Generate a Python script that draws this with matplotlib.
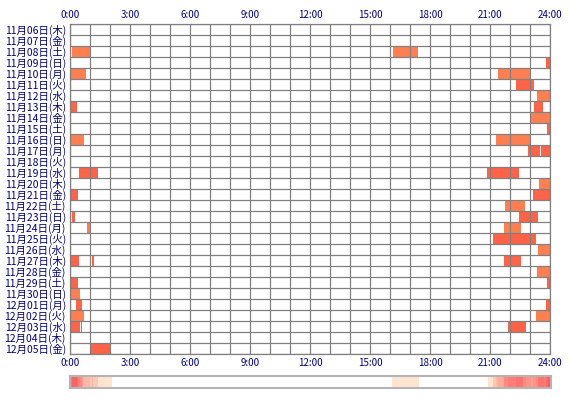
import numpy as np
import matplotlib.pyplot as plt
from matplotlib.colors import LinearSegmentedColormap

plt.rcParams['font.family'] = ['Noto Sans CJK JP', 'DejaVu Sans']

days = ['11月06日(木)', '11月07日(金)', '11月08日(土)', '11月09日(日)', '11月10日(月)',
        '11月11日(火)', '11月12日(水)', '11月13日(木)', '11月14日(金)', '11月15日(土)',
        '11月16日(日)', '11月17日(月)', '11月18日(火)', '11月19日(水)', '11月20日(木)',
        '11月21日(金)', '11月22日(土)', '11月23日(日)', '11月24日(月)', '11月25日(火)',
        '11月26日(水)', '11月27日(木)', '11月28日(金)', '11月29日(土)', '11月30日(日)',
        '12月01日(月)', '12月02日(火)', '12月03日(水)', '12月04日(木)', '12月05日(金)']

# (行番号, 開始時刻, 終了時刻, 色の種類) 0 = coral, 1 = tomato
row = [2, 2, 3, 4, 4, 5, 6, 7, 7, 8, 9, 10, 10, 11, 11, 13, 13, 14, 15, 15,
       16, 17, 17, 18, 18, 19, 20, 21, 21, 21, 22, 23, 23, 24, 25, 25, 26, 26,
       27, 27, 27, 29]
start = [0.1, 16.15, 23.8, 0.05, 21.4, 22.3, 23.35, 0.05, 23.2, 23.05, 23.85, 0.05, 21.3,
         22.9, 23.55, 0.45, 20.85, 23.45, 0.05, 23.15, 21.75, 0.1, 22.45, 0.85, 21.7,
         21.15, 23.4, 0.05, 1.1, 21.7, 23.35, 0.05, 23.85, 0.05, 0.3, 23.8, 0.05, 23.3,
         0.05, 0.55, 21.9, 1.05]
end = [1.0, 17.38, 24.0, 0.8, 23.0, 23.18, 24.0, 0.35, 23.63, 24.0, 24.0, 0.68, 23.0,
       23.5, 24.0, 1.38, 22.45, 24.0, 0.38, 24.0, 22.75, 0.25, 23.4, 1.0, 22.55,
       23.3, 24.0, 0.45, 1.2, 22.55, 24.0, 0.4, 24.0, 0.5, 0.6, 24.0, 0.7, 24.0,
       0.5, 0.6, 22.8, 2.05]
kind = [0, 0, 1, 0, 0, 1, 0, 1, 1, 0, 1, 0, 0, 1, 1, 1, 1, 0, 1, 1,
        0, 1, 1, 0, 0, 1, 0, 1, 1, 1, 0, 1, 1, 0, 1, 1, 0, 0, 1, 1, 1, 1]

tick_hours = [0, 3, 6, 9, 12, 15, 18, 21, 24]
tick_labels = ['0:00', '3:00', '6:00', '9:00', '12:00', '15:00', '18:00', '21:00', '24:00']

colors = ['#ff7f50', '#ff6347']
navy = '#000080'
grid = '#808080'

fig = plt.figure(figsize=(5.7, 4.0), dpi=100)
ax = fig.add_axes([70/570, 1-354/400, 480/570, 330/400])

s = np.array(start)
e = np.array(end)
r = np.array(row)
c = [colors[k] for k in kind]
ax.barh(r, e - s, left=s, height=1.0, color=c, linewidth=0, zorder=1)

for h in range(25):
    ax.axvline(h, color=grid, lw=0.9, zorder=2)
for i in range(len(days) + 1):
    ax.axhline(i - 0.5, color=grid, lw=0.9, zorder=2)

ax.set_xlim(0, 24)
ax.set_ylim(len(days) - 0.5, -0.5)
ax.set_yticks(range(len(days)))
ax.set_yticklabels(days, fontsize=7.5, color=navy)
ax.set_xticks(tick_hours)
ax.set_xticklabels(tick_labels, fontsize=7, color=navy)
ax.tick_params(length=0, pad=3, labeltop=True, labelbottom=True)
for sp in ax.spines.values():
    sp.set_color(grid)
    sp.set_linewidth(0.9)

# 下の頻度ストリップ
bins = np.arange(0, 24 + 1/12, 1/12)
mids = (bins[:-1] + bins[1:]) / 2
counts = np.zeros(len(mids))
for a, b in zip(start, end):
    counts += (mids >= a - 0.05) & (mids < b)

cmap = LinearSegmentedColormap.from_list('heat', ['#ffffff', '#ffe4d0', '#ffa898', '#ff5a5a'])
frac = np.clip((counts - 1) / (counts.max() - 1), 0, 1) ** 0.6
vals = np.where(counts > 0, 1/3 + 2/3 * frac, 0)

ax2 = fig.add_axes([70/570, 1-388/400, 481/570, 12/400])
ax2.imshow(vals[np.newaxis, :], aspect='auto', cmap=cmap, vmin=0, vmax=1,
           extent=[0, 24, 0, 1], interpolation='nearest')
ax2.set_xticks([])
ax2.set_yticks([])
for sp in ax2.spines.values():
    sp.set_color('#b4b4b4')
    sp.set_linewidth(1.5)

fig.savefig('out.png', dpi=100)
